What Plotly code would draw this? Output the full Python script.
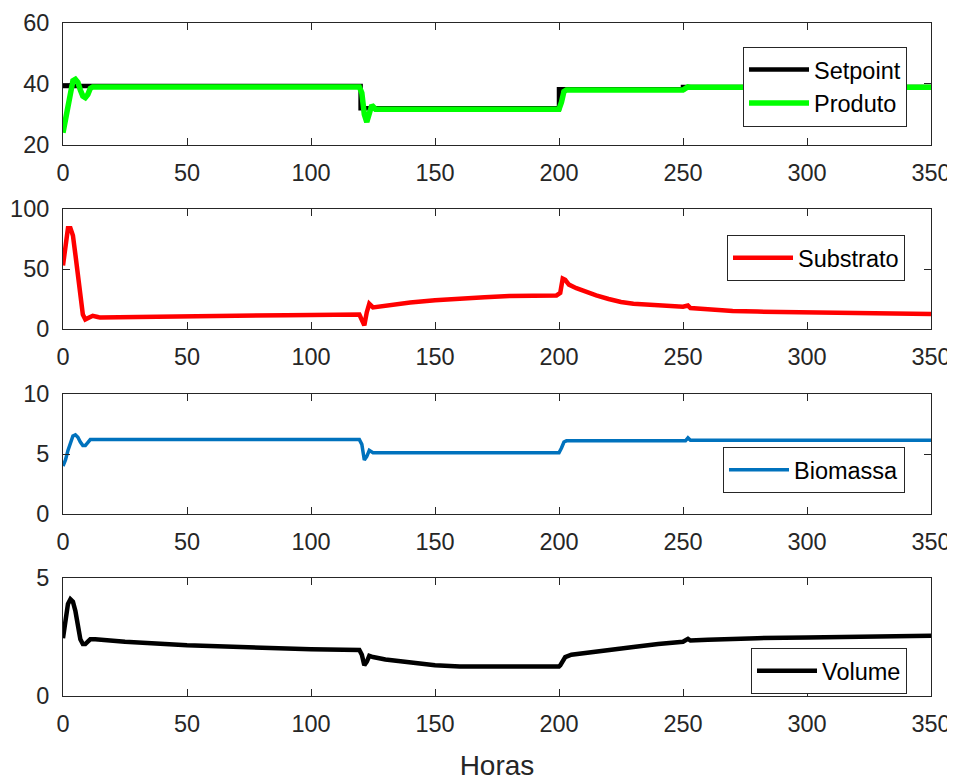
import plotly.graph_objects as go

# ---------------- data ----------------
setpoint_t = [0, 120, 120, 200, 200, 250, 250, 350]
setpoint_y = [39.3, 39.3, 32.0, 32.0, 38.2, 38.2, 39.0, 39.0]

produto_t = [0, 1, 2, 3, 4, 5, 6, 7, 8, 9, 10, 11, 12, 15, 119.5, 120.5, 121.5, 122.5,
             123.5, 124.5, 126, 200, 201, 202, 203, 250, 251, 252, 253, 350]
produto_y = [24, 28, 33, 38, 41, 41.5, 40.5, 38, 36, 35.5, 36.5, 38.5, 39, 39, 39, 37, 30,
             27.5, 31, 33, 31.7, 31.7, 34, 37.5, 38, 38, 38.5, 39, 38.9, 38.9]

substrato_t = [0, 1, 2, 3, 4, 5, 6, 7, 8, 9, 10, 12, 14, 15, 30, 60, 90, 119.5, 120.5,
               121.5, 122.5, 123.5, 125, 130, 140, 150, 160, 170, 180, 190, 199, 200.5,
               201.5, 202.5, 204, 207, 210, 215, 220, 225, 230, 240, 250, 252, 253, 260,
               270, 280, 300, 320, 340, 350]
substrato_y = [53, 70, 84, 84, 78, 62, 45, 25, 12, 8, 9, 11, 10, 9.5, 10, 11, 11.5, 12, 8,
               3, 14, 21, 18, 19.5, 22, 24, 25.5, 26.5, 27.5, 28, 28, 30, 42, 41, 37, 34,
               31.5, 28, 25, 22.5, 21, 19.5, 18.5, 19.5, 17.5, 16.5, 15, 14.5, 14, 13.5,
               13, 12.5]

biomassa_t = [0, 1, 2, 3, 4, 5, 6, 7, 8, 9, 10, 11, 12, 119.5, 120.5, 121.5, 122.5, 123.5,
              125, 200, 201, 202, 203, 251, 252, 253, 254, 350]
biomassa_y = [4.0, 4.5, 5.3, 6.0, 6.5, 6.6, 6.4, 6.0, 5.7, 5.7, 5.9, 6.2, 6.2, 6.2, 5.8,
              4.5, 4.8, 5.3, 5.1, 5.1, 5.5, 6.0, 6.1, 6.1, 6.35, 6.15, 6.15, 6.15]

volume_t = [0, 1, 2, 3, 4, 5, 6, 7, 8, 9, 10, 11, 13, 25, 50, 75, 100, 119.5, 120.5, 121.5,
            122.5, 123.5, 125, 130, 140, 150, 160, 200, 200.5, 201.5, 202.5, 205, 210, 220,
            230, 240, 250, 252, 253, 260, 270, 280, 300, 320, 350]
volume_y = [2.45, 3.2, 3.9, 4.1, 4.0, 3.6, 3.0, 2.4, 2.2, 2.2, 2.3, 2.4, 2.4, 2.3, 2.15,
            2.05, 1.98, 1.95, 1.75, 1.3, 1.45, 1.7, 1.65, 1.55, 1.42, 1.3, 1.25, 1.25, 1.3,
            1.5, 1.65, 1.75, 1.82, 1.97, 2.08, 2.2, 2.3, 2.42, 2.35, 2.38, 2.42, 2.45, 2.48,
            2.5, 2.55]

x_ticks = [0, 50, 100, 150, 200, 250, 300, 350]
y_ticks = [[20, 40, 60], [0, 50, 100], [0, 5, 10], [0, 5]]
y_ranges = [[20, 60], [0, 100], [0, 10], [0, 5]]

# ---------------- figure ----------------
OFF = 8  # page body margin in the browser
W, H = 955 - OFF, 781 - OFF
L, R = 63 - OFF, 931 - OFF
panels_px = [(22.7 - OFF, 145 - OFF), (209 - OFF, 329 - OFF),
             (394 - OFF, 514 - OFF), (578 - OFF, 696 - OFF)]

fig = go.Figure()

fig.add_trace(go.Scatter(x=setpoint_t, y=setpoint_y, mode="lines", name="Setpoint",
                         line=dict(color="#000000", width=4.5), xaxis="x", yaxis="y",
                         legend="legend"))
fig.add_trace(go.Scatter(x=produto_t, y=produto_y, mode="lines", name="Produto",
                         line=dict(color="#00FF00", width=5.5), xaxis="x", yaxis="y",
                         legend="legend"))
fig.add_trace(go.Scatter(x=substrato_t, y=substrato_y, mode="lines", name="Substrato",
                         line=dict(color="#FF0000", width=4.5), xaxis="x2", yaxis="y2",
                         legend="legend2"))
fig.add_trace(go.Scatter(x=biomassa_t, y=biomassa_y, mode="lines", name="Biomassa",
                         line=dict(color="#0072BD", width=3.5), xaxis="x3", yaxis="y3",
                         legend="legend3"))
fig.add_trace(go.Scatter(x=volume_t, y=volume_y, mode="lines", name="Volume",
                         line=dict(color="#000000", width=4.5), xaxis="x4", yaxis="y4",
                         legend="legend4"))

axcol = "#262626"
TICK_FS = 23.5
font = dict(family="Liberation Sans, Arial, sans-serif", size=TICK_FS, color=axcol)

layout = dict(
    width=W, height=H,
    margin=dict(l=L, r=W - R, t=0, b=0),
    paper_bgcolor="white", plot_bgcolor="white",
    font=font,
    showlegend=True,
)

for i, (top, bot) in enumerate(panels_px):
    n = "" if i == 0 else str(i + 1)
    xa = dict(domain=[0, 1], range=[0, 350], tickvals=x_ticks,
              ticks="inside", ticklen=7, tickcolor=axcol, tickwidth=1,
              showline=True, linecolor=axcol, linewidth=1, mirror="ticks",
              showgrid=False, zeroline=False, anchor="y" + n, automargin=False,
              tickfont=dict(size=TICK_FS, color=axcol), ticklabelstandoff=7)
    ya = dict(domain=[1 - bot / H, 1 - top / H], range=y_ranges[i], tickvals=y_ticks[i],
              ticks="inside", ticklen=7, tickcolor=axcol, tickwidth=1,
              showline=True, linecolor=axcol, linewidth=1, mirror="ticks",
              showgrid=False, zeroline=False, anchor="x" + n, automargin=False,
              tickfont=dict(size=TICK_FS, color=axcol), ticklabelstandoff=8)
    if i == 3:
        xa["title"] = dict(text="Horas", font=dict(size=28, color=axcol), standoff=21)
    layout["xaxis" + n] = xa
    layout["yaxis" + n] = ya

leg_common = dict(bgcolor="white", bordercolor=axcol, borderwidth=1,
                  font=dict(size=23.5, color="#000000"), xanchor="right", yanchor="top",
                  xref="paper", yref="paper", itemwidth=60, tracegroupgap=0)
layout["legend"] = dict(leg_common, x=(907 - 63) / (931 - 63), y=1 - (46.7 - OFF) / H)
layout["legend2"] = dict(leg_common, x=(905 - 63) / (931 - 63), y=1 - (235 - OFF) / H)
layout["legend3"] = dict(leg_common, x=(905 - 63) / (931 - 63), y=1 - (447 - OFF) / H)
layout["legend4"] = dict(leg_common, x=(907 - 63) / (931 - 63), y=1 - (648 - OFF) / H)

fig.update_layout(**layout)
fig.write_html("out.html")
